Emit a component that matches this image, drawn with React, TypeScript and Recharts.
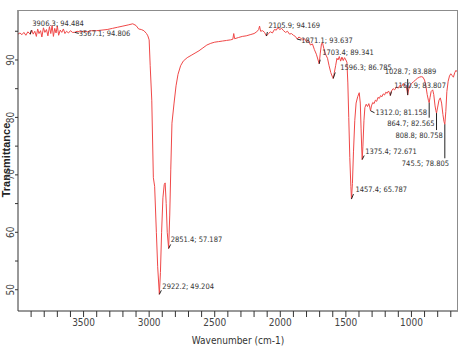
import { ComposedChart, Line, Scatter, XAxis, YAxis } from 'recharts'

// FTIR spectrum
const wavenumber = [
  4000, 3985, 3970, 3955, 3940, 3925, 3906.3, 3895, 3884, 3872, 3860, 3850, 3840, 3828, 3818, 3806,
  3795, 3783, 3772, 3760, 3750, 3740, 3730, 3720, 3710, 3700, 3690, 3678, 3666, 3654, 3642, 3630,
  3615, 3600, 3585, 3567.1, 3550, 3530, 3500, 3470, 3440, 3400, 3360, 3320, 3280, 3240, 3200, 3160,
  3125, 3100, 3080, 3060, 3040, 3020, 3010, 3000, 2992, 2980, 2968, 2958, 2945, 2935, 2922.2, 2914,
  2905, 2895, 2885, 2878, 2870, 2862, 2851.4, 2843, 2835, 2826, 2810, 2795, 2780, 2760, 2740, 2710,
  2680, 2650, 2620, 2590, 2560, 2530, 2500, 2470, 2440, 2410, 2380, 2362, 2355, 2348, 2320, 2290,
  2260, 2230, 2200, 2180, 2165, 2158, 2150, 2135, 2120, 2105.9, 2090, 2075, 2060, 2045, 2030, 2018,
  2005, 1990, 1975, 1960, 1945, 1930, 1915, 1900, 1885, 1871.1, 1858, 1845, 1830, 1815, 1800, 1785,
  1770, 1755, 1740, 1725, 1712, 1703.4, 1695, 1686, 1678, 1668, 1655, 1640, 1628, 1615, 1605, 1596.3,
  1588, 1578, 1568, 1560, 1550, 1540, 1530, 1520, 1510, 1500, 1492, 1485, 1478, 1470, 1462, 1457.4,
  1450, 1442, 1432, 1422, 1410, 1398, 1390, 1384, 1379, 1375.4, 1370, 1362, 1355, 1345, 1335, 1325,
  1318, 1312.0, 1305, 1295, 1285, 1275, 1265, 1255, 1245, 1235, 1225, 1215, 1205, 1195, 1185, 1175,
  1168, 1160.9, 1152, 1140, 1128, 1115, 1100, 1088, 1075, 1062, 1050, 1040, 1033, 1028.7, 1022, 1012,
  1000, 985, 970, 955, 940, 925, 912, 900, 890, 880, 870, 864.7, 858, 850, 838, 830,
  820, 814, 808.8, 800, 790, 780, 770, 760, 752, 745.5, 738, 730, 720, 710, 700, 690,
  680, 670, 660, 650, 645,
]

const transmittance = [
  94.5, 94.7, 94.4, 94.8, 94.3, 94.9, 94.484, 95.2, 94.5, 95.0, 94.1, 95.4, 94.6, 95.1, 94.0, 95.6,
  94.8, 95.3, 94.2, 95.8, 94.6, 96.0, 94.1, 95.5, 94.7, 95.9, 94.3, 95.2, 94.8, 95.4, 94.6, 95.0,
  94.7, 95.1, 94.8, 94.806, 95.0, 94.9, 95.0, 94.9, 95.1, 95.1, 95.2, 95.3, 95.5, 95.7, 95.9, 96.1,
  96.3, 96.0, 95.4, 95.3, 95.1, 94.6, 94.2, 93.5, 89.0, 83.0, 69.5, 68.0, 60.0, 54.0, 49.204, 53.0,
  60.0, 66.0, 68.3, 68.6, 65.0, 60.0, 57.187, 63.0, 71.0, 79.0, 82.5, 85.5, 87.5, 89.0, 89.8, 90.4,
  90.8, 91.2, 91.6, 92.1, 92.6, 92.9, 93.1, 93.2, 93.3, 93.4, 93.5, 93.6, 94.6, 93.7, 93.9, 94.1,
  94.2, 94.4, 94.6, 94.9, 95.3, 95.9, 95.0, 95.1, 94.8, 94.169, 94.6, 94.9, 94.7, 95.3, 95.2, 95.7,
  95.3, 95.5, 95.1, 94.8, 95.0, 94.5, 94.6, 94.3, 94.1, 93.637, 94.0, 93.8, 93.5, 93.7, 93.2, 93.4,
  92.6, 92.8, 91.8, 91.0, 90.0, 89.341, 91.2, 92.8, 93.0, 92.0, 91.0, 90.3, 89.0, 87.8, 87.2, 86.785,
  87.8, 89.0, 90.3, 90.0, 90.6, 89.8, 90.5, 89.9, 90.4, 90.0, 89.6, 86.0, 80.0, 73.0, 68.0, 65.787,
  68.5, 74.0, 79.5, 82.5, 83.6, 84.3, 82.5, 78.0, 74.5, 72.671, 75.0, 79.5, 81.7, 82.3, 81.9, 82.4,
  81.8, 81.158, 82.0, 82.6, 82.4, 83.0, 82.8, 83.5, 83.3, 83.8, 83.6, 84.1, 83.9, 84.4, 84.2, 84.6,
  84.3, 83.807, 84.6, 85.0, 84.8, 85.3, 85.1, 85.6, 85.4, 85.9, 85.6, 85.3, 84.6, 83.889, 84.8, 85.5,
  85.9, 86.2, 86.5, 86.8, 87.0, 87.1, 87.0, 86.5, 85.5, 84.0, 82.9, 82.565, 83.5, 84.5, 84.8, 84.0,
  82.0, 81.2, 80.758, 81.8, 83.0, 83.4, 82.5, 80.5, 79.3, 78.805, 81.0, 84.5, 86.3, 87.2, 87.6, 87.3,
  87.0, 87.8, 88.2, 87.9, 87.6,
]

// labelled peaks
const peakWave = [
  3906.3, 3567.1, 2105.9, 1871.1, 1703.4, 1596.3, 1457.4, 1375.4, 1312.0, 1160.9, 1028.7, 864.7,
  808.8, 745.5, 2851.4, 2922.2,
]
const peakT = [
  94.484, 94.806, 94.169, 93.637, 89.341, 86.785, 65.787, 72.671, 81.158, 83.807, 83.889, 82.565,
  80.758, 78.805, 57.187, 49.204,
]

const xTicks = [
  700, 800, 900, 1000, 1100, 1200, 1300, 1400, 1500, 1600, 1700, 1800, 1900, 2000, 2100, 2200, 2300,
  2400, 2500, 2600, 2700, 2800, 2900, 3000, 3100, 3200, 3300, 3400, 3500, 3600, 3700, 3800, 3900,
]
const xLabelTicks = [1000, 1500, 2000, 2500, 3000, 3500]
const yTicks = [50, 55, 60, 65, 70, 75, 80, 85, 90, 95]
const yLabelTicks = [50, 60, 70, 80, 90]

// where each peak's text sits relative to its point, and its little leader line
const labelOffsets = [
  { dx: 2, dy: -8, lx: 1, ly: -4 },
  { dx: 4, dy: 4, lx: 4, ly: 1 },
  { dx: 2, dy: -8, lx: 1, ly: -4 },
  { dx: 4, dy: 4, lx: 4, ly: 1 },
  { dx: 3, dy: -9, lx: 1, ly: -4 },
  { dx: 7, dy: -8, lx: 2, ly: -6 },
  { dx: 4, dy: -7, lx: 2, ly: -5 },
  { dx: 3, dy: -6, lx: 2, ly: -4 },
  { dx: 5, dy: 4, lx: 4, ly: 2 },
  { dx: 4, dy: -8, lx: 1, ly: -4 },
  { dx: -23, dy: -21, lx: 0, ly: -16 },
  { dx: -42, dy: 23, lx: 0, ly: 15 },
  { dx: -41, dy: 25, lx: 0, ly: 17 },
  { dx: -43, dy: 42, lx: 0, ly: 34 },
  { dx: 2, dy: -6, lx: 2, ly: -4 },
  { dx: 3, dy: -5, lx: 2, ly: -4 },
]

const spectrum = wavenumber.map((w, i) => ({ w, t: transmittance[i] }))
const peaks = peakWave.map((w, i) => ({ w, t: peakT[i], i }))

const FONT = "'Liberation Sans Narrow', 'DejaVu Sans Condensed', 'Liberation Sans', Arial, sans-serif"
const WIDTH = 474
const HEIGHT = 354
const MARGIN = { top: 10, right: 16, bottom: 0, left: 0 }
const Y_AXIS_W = 18
const X_AXIS_H = 43
const XMIN = 645
const XMAX = 4000
const YMIN = 46.3
const YMAX = 98.7

function PeakLabel(props: any) {
  const { cx, cy, payload } = props
  if (cx == null || cy == null) return <g />
  const o = labelOffsets[payload.i]
  return (
    <g>
      <line x1={cx} y1={cy} x2={cx + o.lx} y2={cy + o.ly} stroke="#222" strokeWidth={1} />
      <text x={cx + o.dx} y={cy + o.dy} fontSize={7.5} fontFamily={FONT} fill="#333">
        {`${payload.w.toFixed(1)}; ${payload.t.toFixed(3)}`}
      </text>
    </g>
  )
}

function YTick(props: any) {
  const { y, payload } = props
  if (!yLabelTicks.includes(payload.value)) return <g />
  return (
    <text
      x={11}
      y={y}
      transform={`rotate(-90 11 ${y})`}
      textAnchor="middle"
      dominantBaseline="central"
      fontSize={10}
      fontFamily={FONT}
      fill="#444"
    >
      {payload.value}
    </text>
  )
}

function YTitle() {
  return (
    <text
      x={6}
      y={160}
      transform="rotate(-90 6 160)"
      textAnchor="middle"
      dominantBaseline="central"
      fontSize={11}
      fontWeight={600}
      fontFamily="'Liberation Sans', Arial, sans-serif"
      fill="#222"
    >
      Transmittance
    </text>
  )
}

export default function App() {
  const plotLeft = MARGIN.left + Y_AXIS_W
  const plotTop = MARGIN.top
  const plotW = WIDTH - MARGIN.right - plotLeft
  const plotH = HEIGHT - MARGIN.bottom - X_AXIS_H - plotTop
  return (
    <div style={{ position: 'absolute', left: 0, top: 0, width: WIDTH, height: HEIGHT, background: '#fff' }}>
      <ComposedChart width={WIDTH} height={HEIGHT} margin={MARGIN}>
        <XAxis
          dataKey="w"
          type="number"
          domain={[XMIN, XMAX]}
          reversed
          allowDataOverflow
          ticks={xTicks}
          interval={0}
          height={X_AXIS_H}
          tickSize={6}
          tickLine={{ stroke: '#333' }}
          axisLine={{ stroke: '#333' }}
          tick={{ fontSize: 10, fontFamily: FONT, fill: '#444' }}
          tickFormatter={(v: number) => (xLabelTicks.includes(v) ? String(v) : '')}
          label={{
            value: 'Wavenumber (cm-1)',
            position: 'insideBottom',
            offset: 10,
            fontSize: 10,
            fontFamily: FONT,
            fill: '#333',
          }}
        />
        <YAxis
          type="number"
          domain={[YMIN, YMAX]}
          allowDataOverflow
          ticks={yTicks}
          interval={0}
          width={Y_AXIS_W}
          tickSize={3}
          tickLine={{ stroke: '#333' }}
          axisLine={{ stroke: '#333' }}
          tick={<YTick />}
          label={{ content: () => <YTitle /> }}
        />
        <Line
          data={spectrum}
          dataKey="t"
          stroke="#f04848"
          strokeWidth={1}
          dot={false}
          isAnimationActive={false}
        />
        <Scatter data={peaks} dataKey="t" shape={<PeakLabel />} isAnimationActive={false} />
      </ComposedChart>
      {/* grey top and right edges of the plot box */}
      <div
        style={{
          position: 'absolute',
          left: plotLeft,
          top: plotTop,
          width: plotW,
          height: plotH,
          borderTop: '1px solid #8c8c8c',
          borderRight: '1px solid #8c8c8c',
          boxSizing: 'border-box',
          pointerEvents: 'none',
        }}
      />
    </div>
  )
}
